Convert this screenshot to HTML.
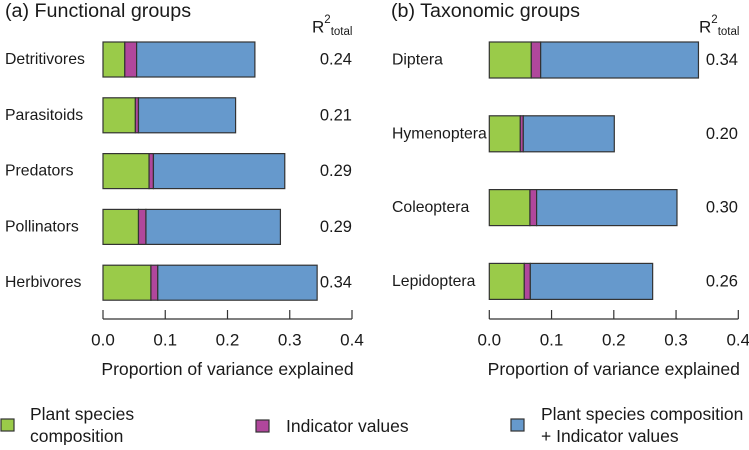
<!DOCTYPE html>
<html><head><meta charset="utf-8"><style>
body{margin:0;background:#fff}
svg{font-family:"Liberation Sans",Arial,sans-serif;fill:#1a1a1a}
</style></head><body>
<svg id="c" width="749" height="445" viewBox="0 0 749 445"></svg>
<script>
const catsA=["Detritivores","Parasitoids","Predators","Pollinators","Herbivores"];
const greenA=[0.035,0.052,0.074,0.057,0.077];
const purpleA=[0.054,0.057,0.081,0.069,0.088];
const totalA=[0.244,0.213,0.292,0.285,0.344];
const r2A=["0.24","0.21","0.29","0.29","0.34"];
const catsB=["Diptera","Hymenoptera","Coleoptera","Lepidoptera"];
const greenB=[0.0675,0.0498,0.0653,0.0562];
const purpleB=[0.0825,0.0546,0.076,0.0659];
const totalB=[0.336,0.2008,0.3015,0.2624];
const r2B=["0.34","0.20","0.30","0.26"];
const ticks=[0,0.1,0.2,0.3,0.4];
const tickLabels=["0.0","0.1","0.2","0.3","0.4"];
const NS="http://www.w3.org/2000/svg";
const svg=document.getElementById('c');
function mk(t,a,p){const e=document.createElementNS(NS,t);for(const k in a)e.setAttribute(k,a[k]);(p||svg).appendChild(e);return e;}
function txt(x,y,s,size,anchor,name){const e=mk('text',{x:x,y:y,'font-size':size,'text-anchor':anchor||'start','dominant-baseline':'central'});e.textContent=s;


return e;}
function panel(o){
  const sx=v=>o.x0+v*622.5;
  const g=mk('g',{});
  
  
  txt(o.titleX,11,o.title,19.7,'start',o.id+'-title');
  const r=txt(o.r2X,27,'R',17,'start',o.id+'-r2-header');
  const sup=mk('tspan',{'font-size':11.5,dy:-7});sup.textContent='2';r.appendChild(sup);
  const sub=mk('tspan',{'font-size':11.5,dy:12});sub.textContent='total';r.appendChild(sub);
  o.cats.forEach((c,i)=>{
    const y0=o.y0+i*o.pitch, h=o.h;
    const segs=[[0,o.green[i],'#9acb49','green'],[o.green[i],o.purple[i],'#b0479c','purple'],[o.purple[i],o.total[i],'#6699cc','blue']];
    segs.forEach(s=>{const b=mk('rect',{x:sx(s[0]),y:y0,width:sx(s[1])-sx(s[0]),height:h,fill:s[2],stroke:'#333','stroke-width':1.2});
      
      });
    txt(o.labelX,y0+h/2,c,15.8,'start',o.id+'-label-'+c.toLowerCase());
    txt(o.r2R,y0+h/2,o.r2[i],16.5,'end',o.id+'-r2-'+c.toLowerCase());
  });
  const ax=mk('line',{x1:sx(0),x2:sx(0.4),y1:319,y2:319,stroke:'#333','stroke-width':1.2});
  
  
  ticks.forEach((t,i)=>{mk('line',{x1:sx(t),x2:sx(t),y1:310,y2:319,stroke:'#333','stroke-width':1.2});
    txt(sx(t),340,tickLabels[i],17,'middle',o.id+'-tick-'+tickLabels[i]);});
  txt(sx(0.2),369,'Proportion of variance explained',17.6,'middle',o.id+'-x-axis-title');
}
panel({id:'functional',x0:103,y0:42,pitch:55.8,h:35,cats:catsA,green:greenA,purple:purpleA,total:totalA,r2:r2A,title:'(a) Functional groups',titleX:5,r2X:312,r2R:352,labelX:5});
panel({id:'taxonomic',x0:489.3,y0:42,pitch:73.8,h:36,cats:catsB,green:greenB,purple:purpleB,total:totalB,r2:r2B,title:'(b) Taxonomic groups',titleX:391,r2X:699,r2R:738,labelX:392});
function leg(x,y,col,lines,tx,name){
  const r=mk('rect',{x:x,y:y,width:13,height:12,fill:col,stroke:'#333','stroke-width':1.2});
  
  
  if(lines.length==1)txt(tx,426,lines[0],17.5,'start',name+'-text');
  else{txt(tx,414,lines[0],17.5,'start',name+'-text-1');txt(tx,436,lines[1],17.5,'start',name+'-text-2');}
}
leg(1,419,'#9acb49',['Plant species','composition'],30,'legend-plant-species');
leg(256,420,'#b0479c',['Indicator values'],286,'legend-indicator-values');
leg(511,419,'#6699cc',['Plant species composition','+ Indicator values'],541,'legend-combined');
</script>
</body></html>
